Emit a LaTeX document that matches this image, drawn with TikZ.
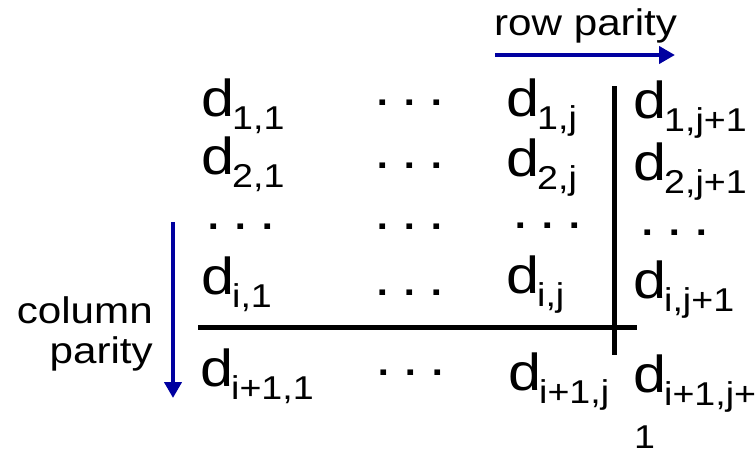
\documentclass[tikz,border=0pt]{standalone}
\usepackage{fontspec}
\setmainfont{Liberation Sans}[FakeStretch=1.14]
\usetikzlibrary{arrows.meta}
\definecolor{ParBlue}{RGB}{0,0,160}
\newcommand{\dsub}[1]{d\kern-2pt\raisebox{-13pt}{\fontsize{33}{33}\selectfont #1}}
\newcommand{\hdts}{.\hspace{10.5pt}.\hspace{10.5pt}.}

\begin{document}
\begin{tikzpicture}[x=1pt,y=-1pt,
    ent/.style={anchor=base west,inner sep=0pt,font=\fontsize{52}{52}\selectfont},
    dts/.style={anchor=base,inner sep=0pt,font=\fontsize{52}{52}\selectfont},
    lbl/.style={inner sep=0pt,font=\fontsize{37}{37}\selectfont},
    bar/.style={line width=5pt},
    par/.style={color=ParBlue,line width=4pt,-{Triangle[length=16pt,width=17pt]}}]
        \useasboundingbox (0,0) rectangle (756,453);

        % data bits
        \node[ent] (d11) at (201,116) {\dsub{1,1}};
        \node[ent] (d21) at (201,174) {\dsub{2,1}};
        \node[ent] (di1) at (201,294) {\dsub{i,1}};
        \node[ent] (dn1) at (200,386) {\dsub{i+1,1}};
        \node[ent] (d1j) at (506,116) {\dsub{1,j}};
        \node[ent] (d2j) at (506,176) {\dsub{2,j}};
        \node[ent] (dij) at (506,293) {\dsub{i,j}};
        \node[ent] (dnj) at (508,390) {\dsub{i+1,j}};

        % parity bits
        \node[ent] (d1p) at (633,118) {\dsub{1,j+1}};
        \node[ent] (d2p) at (633,180) {\dsub{2,j+1}};
        \node[ent] (dip) at (633,298) {\dsub{i,j+1}};
        \node[ent] (dnp) at (633,392) {\dsub{i+1,j+}};
        \node[anchor=base west,inner sep=0pt,font=\fontsize{33}{33}\selectfont]
              (wrap) at (634,448) {1};

        % dots
        \node[dts] (h1) at (410,105) {\hdts};
        \node[dts] (h2) at (410,168) {\hdts};
        \node[dts] (v1) at (241,229) {\hdts};
        \node[dts] (v2) at (410,229) {\hdts};
        \node[dts] (v3) at (548,228) {\hdts};
        \node[dts] (v4) at (675,235) {\hdts};
        \node[dts] (h4) at (410,295) {\hdts};
        \node[dts] (h5) at (411,375) {\hdts};

        % separators
        \coordinate (vtop) at (614,86);
        \coordinate (vbot) at (614,355);
        \coordinate (hlft) at (198,327);
        \coordinate (hrgt) at (637,327);
        \draw[bar] (vtop) -- (vbot);
        \draw[bar] (hlft) -- (hrgt);

        % parity arrows
        \node[lbl,anchor=base west] (rowp) at (494,35) {row parity};
        \coordinate (rpa) at (495,55);
        \coordinate (rpb) at (675,55);
        \draw[par] (rpa) -- (rpb);
        \node[lbl,anchor=base east] (colp) at (153,323) {column};
        \node[lbl,anchor=base east] (colq) at (153,363) {parity};
        \coordinate (cpa) at (173,222);
        \coordinate (cpb) at (173,398);
        \draw[par] (cpa) -- (cpb);
      \end{tikzpicture}
\end{document}
